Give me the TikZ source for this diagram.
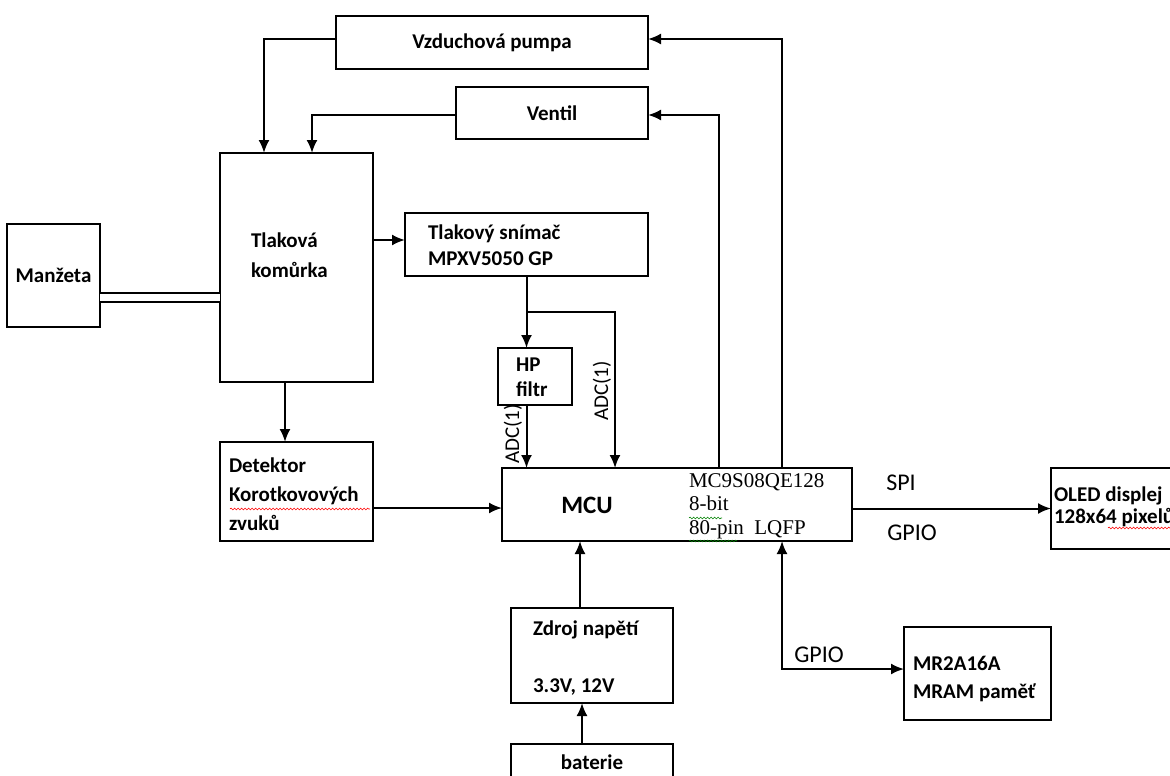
\documentclass[tikz,border=0pt]{standalone}
\usepackage{fontspec}
\setmainfont{Carlito}
\newfontfamily\pismoserif{Liberation Serif}
\usetikzlibrary{arrows.meta,decorations.pathmorphing}
\newcommand{\tucne}[1]{\fontsize{21}{#1}\selectfont\bfseries}
\newcommand{\tenke}{\fontsize{24}{28}\selectfont}

\begin{document}
\begin{tikzpicture}[x=1pt, y=-1pt, line width=2pt,
  blok/.style={draw, inner sep=0pt, outer sep=0pt, font=\tucne{26}},
  sipka/.style={-{Latex[length=13pt,width=11pt]}},
  obousipka/.style={{Latex[length=13pt,width=11pt]}-{Latex[length=13pt,width=11pt]}},
  popis/.style={inner sep=0pt, anchor=west, align=left},
  svisle/.style={inner sep=0pt, rotate=90, font=\fontsize{21}{24}\selectfont},
  kmit/.style={line width=0.6pt, decorate, decoration={snake, amplitude=0.9pt, segment length=3.5pt}}]
  \useasboundingbox (0,0) rectangle (1170,776);
  \clip (0,0) rectangle (1170,776);
  \node[blok, minimum width=312, minimum height=53] (pumpa) at (492,42.5) {Vzduchová pumpa};
  \node[blok, minimum width=192, minimum height=52] (ventil) at (552,113) {Ventil};
  \node[blok, minimum width=153, minimum height=229] (tlak) at (296.5,267.5) {};
  \node[blok, minimum width=93, minimum height=103] (manzeta) at (53.5,275.5) {Manžeta};
  \node[blok, minimum width=243, minimum height=63] (snimac) at (526.5,244.5) {};
  \node[blok, minimum width=74, minimum height=57] (hp) at (535,376.5) {};
  \node[blok, minimum width=350, minimum height=73] (mcu) at (677,504.5) {};
  \node[blok, minimum width=153, minimum height=99] (detektor) at (296.5,491.5) {};
  \node[blok, minimum width=162, minimum height=95] (zdroj) at (592,655.5) {};
  \node[blok, minimum width=162, minimum height=56] (baterie) at (592,772) {};
  \node[blok, minimum width=139, minimum height=81] (oled) at (1120.5,508.5) {};
  \node[blok, minimum width=147, minimum height=93] (mram) at (977.5,673.5) {};

  \node[popis, font=\tucne{30}] (tlaktext) at (250,255) {Tlaková\\komůrka};
  \node[popis, font=\tucne{26}] (snimactext) at (427,245) {Tlakový snímač\\MPXV5050 GP};
  \node[popis, font=\tucne{25}] (hptext) at (515,377) {HP\\filtr};
  \node[inner sep=0pt, font=\fontsize{25}{28}\selectfont\bfseries] (mcutext) at (587,505) {MCU};
  \node[popis, font=\fontsize{21}{23.5}\selectfont\pismoserif] (typtext) at (688,506) {MC9S08QE128\\8-bit\\80-pin~~LQFP};
  \node[popis, font=\tucne{29}] (detektortext) at (228,494) {Detektor\\Korotkovových\\zvuků};
  \node[popis, font=\tucne{26}] (zdrojtext) at (532,630) {Zdroj napětí};
  \node[popis, font=\tucne{26}] (napetitext) at (532,687) {3.3V, 12V};
  \node[inner sep=0pt, font=\tucne{26}] (bateritext) at (592,762) {baterie};
  \node[popis, font=\tucne{22}] (oledtext) at (1053,507) {OLED displej\\128x64 pixelů};
  \node[popis, font=\tucne{28}] (mramtext) at (912,679) {MR2A16A\\MRAM paměť};

  \draw[sipka] ([yshift=3.5]pumpa.west) -| ([xshift=-32.5]tlak.north);
  \draw[sipka] ([yshift=-2]ventil.west) -| ([xshift=15.5]tlak.north);
  \draw[line width=2pt, double distance=7pt] ([yshift=-22]manzeta.east) -- ([yshift=-22]manzeta.east -| tlak.west);
  \draw[sipka] ([yshift=4.5]tlak.east |- snimac.west) -- ([yshift=4.5]snimac.west);
  \draw[sipka] ([xshift=-11.5]tlak.south) -- ([xshift=-11.5]detektor.north);
  \coordinate (rozbocka) at (snimac.south |- 0,312);
  \draw[sipka] (snimac.south) -- (snimac.south |- hp.north);
  \draw[sipka] (rozbocka) -| ([xshift=-62]mcu.north);
  \draw[sipka] (snimac.south |- hp.south) -- (snimac.south |- mcu.north);
  \draw[sipka] ([yshift=-3.5]mcu.west -| detektor.east) -- ([yshift=-3.5]mcu.west);
  \draw[sipka] ([xshift=-12]zdroj.north) -- ([xshift=-12]zdroj.north |- mcu.south);
  \draw[sipka] ([xshift=-10]baterie.north) -- ([xshift=-10]zdroj.south);
  \draw[sipka] ([xshift=42]mcu.north) |- ([yshift=-2]ventil.east);
  \draw[sipka] ([xshift=105]mcu.north) |- ([yshift=3.5]pumpa.east);
  \draw[sipka] (mcu.east |- oled.west) -- (oled.west);
  \draw[obousipka] ([xshift=105]mcu.south) |- ([yshift=4.5]mram.west);

  \node[svisle] (adc1) at (513,434) {ADC(1)};
  \node[svisle] (adc2) at (602,391) {ADC(1)};
  \node[inner sep=0pt, font=\tenke] (spi) at (901,483) {SPI};
  \node[inner sep=0pt, font=\tenke] (gpio1) at (912,533) {GPIO};
  \node[inner sep=0pt, font=\tenke] (gpio2) at (819,655) {GPIO};

  \draw[kmit, red] (230,509) -- (370,509);
  \draw[kmit, red] (1108,528) -- (1170,528);
  \draw[kmit, green!50!black] (689,518) -- (722,518);
  \draw[kmit, green!50!black] (689,541) -- (737,541);
\end{tikzpicture}
\end{document}
